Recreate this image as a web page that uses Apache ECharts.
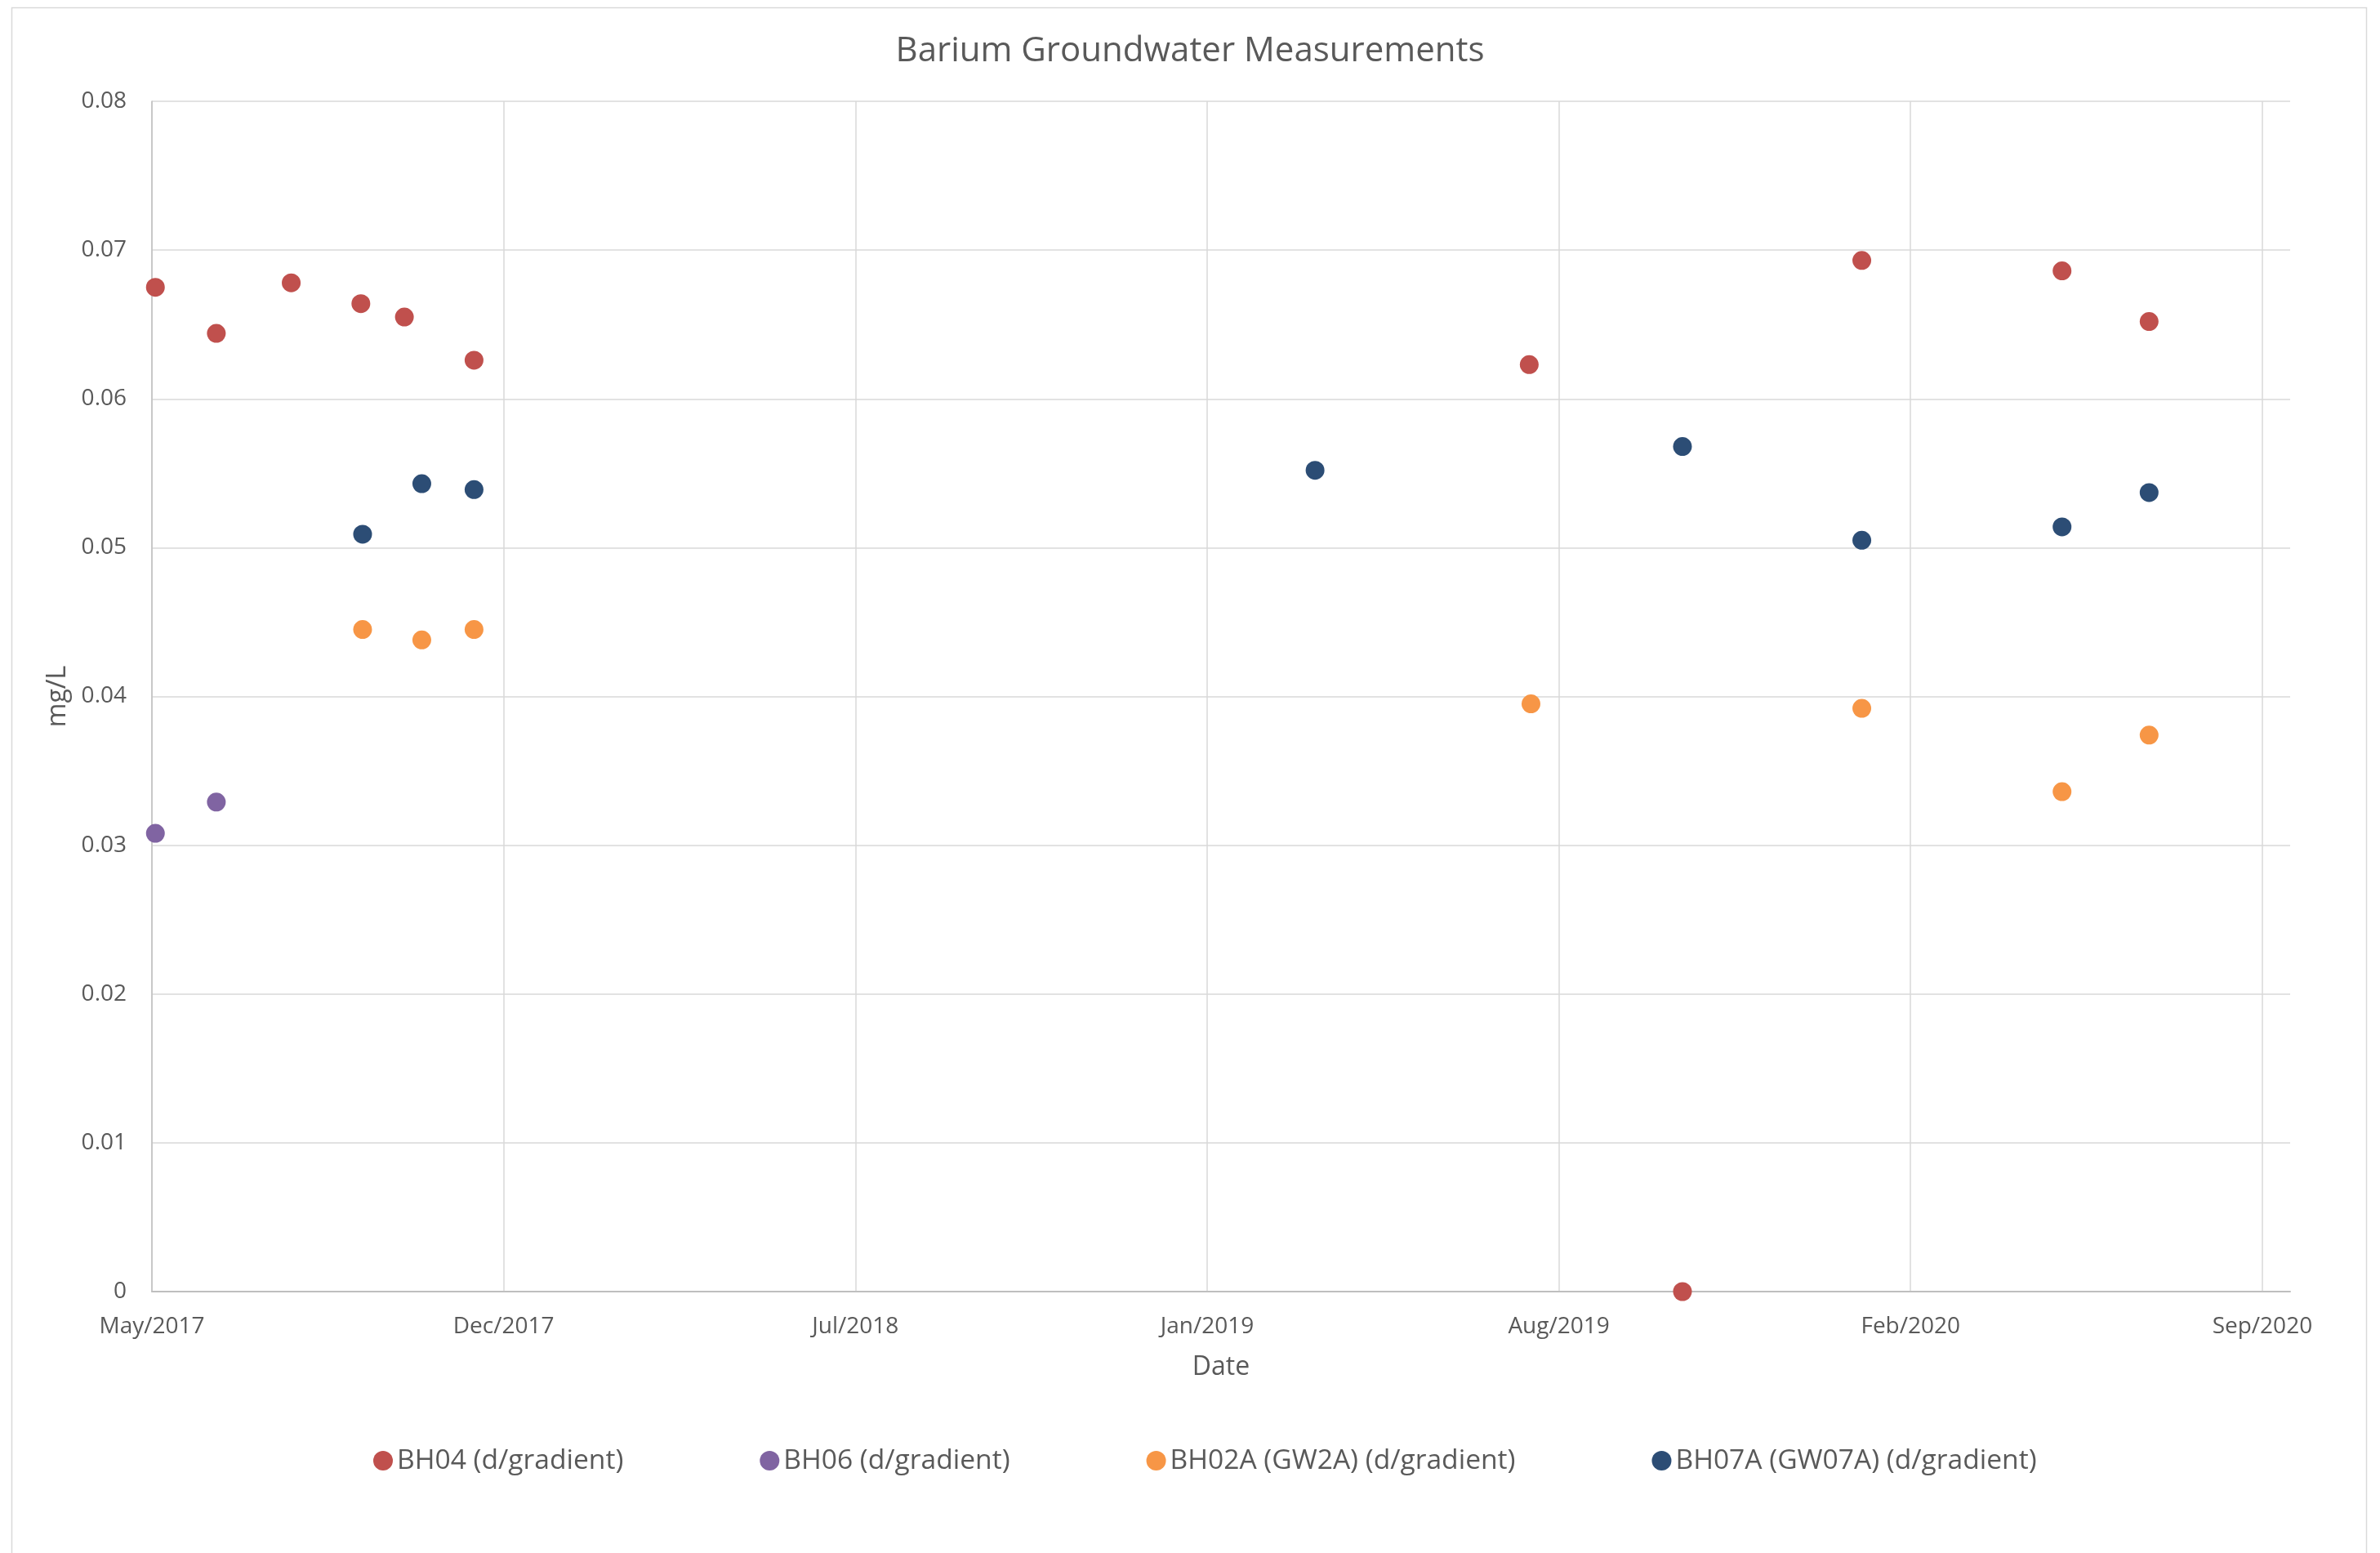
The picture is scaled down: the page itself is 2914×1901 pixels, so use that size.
<!DOCTYPE html>
<html>
<head>
<meta charset="utf-8">
<title>Barium Groundwater Measurements</title>
<script src="https://cdn.jsdelivr.net/npm/echarts@6/dist/echarts.min.js"></script>
<style>
  html, body { margin: 0; padding: 0; background: #fff; }
  #chart { width: 2914px; height: 1901px; }
</style>
</head>
<body>
<div id="chart"></div>
<script>
// sample dates + Ba results (mg/L)
var bh04Dates = ['2017-05-25', '2017-06-29', '2017-08-11', '2017-09-20', '2017-10-15', '2017-11-24',
                 '2019-07-23', '2019-10-19', '2020-01-30', '2020-05-24', '2020-07-13'];
var bh04Values = [0.0675, 0.0644, 0.0678, 0.0664, 0.0655, 0.0626, 0.0623, 0, 0.0693, 0.0686, 0.0652];

var bh06Dates = ['2017-05-25', '2017-06-29'];
var bh06Values = [0.0308, 0.0329];

var bh02aDates = ['2017-09-21', '2017-10-25', '2017-11-24', '2019-07-24', '2020-01-30', '2020-05-24', '2020-07-13'];
var bh02aValues = [0.0445, 0.0438, 0.0445, 0.0395, 0.0392, 0.0336, 0.0374];

var bh07aDates = ['2017-09-21', '2017-10-25', '2017-11-24', '2019-03-22', '2019-10-19', '2020-01-30',
                  '2020-05-24', '2020-07-13'];
var bh07aValues = [0.0509, 0.0543, 0.0539, 0.0552, 0.0568, 0.0505, 0.0514, 0.0537];

var seriesNames = ['BH04 (d/gradient)', 'BH06 (d/gradient)', 'BH02A (GW2A) (d/gradient)', 'BH07A (GW07A) (d/gradient)'];
var seriesColors = ['#C0504D', '#8064A2', '#F79646', '#2C4D75'];

// x axis: days counted from the first tick (Excel used a 202 day major unit)
var AXIS_START = Date.UTC(2017, 4, 23);
var DAY = 86400000;
var TICK_DAYS = 202;
var AXIS_END_DAYS = 1228;
var MONTHS = ['Jan', 'Feb', 'Mar', 'Apr', 'May', 'Jun', 'Jul', 'Aug', 'Sep', 'Oct', 'Nov', 'Dec'];

function toDays(s) {
    var p = s.split('-');
    return Math.round((Date.UTC(+p[0], +p[1] - 1, +p[2]) - AXIS_START) / DAY);
}

function pairs(dates, values) {
    return dates.map(function (d, i) { return [toDays(d), values[i]]; });
}

var allData = [
    pairs(bh04Dates, bh04Values),
    pairs(bh06Dates, bh06Values),
    pairs(bh02aDates, bh02aValues),
    pairs(bh07aDates, bh07aValues)
];

var textColor = '#595959';
var font = 'Open Sans';

var chart = echarts.init(document.getElementById('chart'));

var option = {
    backgroundColor: '#fff',
    animation: false,
    textStyle: { fontFamily: font },
    graphic: [{
        type: 'rect',
        shape: { x: 14.5, y: 9.5, width: 2883, height: 1900 },
        style: { fill: 'none', stroke: '#D9D9D9', lineWidth: 1.5 },
        silent: true
    }],
    title: {
        text: 'Barium Groundwater Measurements',
        left: 'center',
        top: 42,
        padding: 0,
        textStyle: { color: textColor, fontSize: 42, fontWeight: 'normal', fontFamily: font }
    },
    legend: {
        data: seriesNames,
        left: 457,
        top: 1771,
        padding: 0,
        icon: 'circle',
        itemWidth: 24,
        itemHeight: 24,
        itemGap: 167,
        textStyle: { color: textColor, fontSize: 33.6, fontFamily: font }
    },
    grid: {
        left: 186,
        right: 110,
        top: 124,
        bottom: 320,
        containLabel: false
    },
    xAxis: {
        type: 'value',
        min: 0,
        max: AXIS_END_DAYS,
        interval: TICK_DAYS,
        name: 'Date',
        nameLocation: 'middle',
        nameGap: 77,
        nameTextStyle: { color: textColor, fontSize: 32, fontFamily: font },
        axisLine: { show: true, lineStyle: { color: '#BFBFBF', width: 2 } },
        axisTick: { show: false },
        axisLabel: {
            color: textColor,
            fontSize: 28,
            margin: 29,
            showMaxLabel: false,
            formatter: function (v) {
                var d = new Date(AXIS_START + v * DAY);
                return MONTHS[d.getUTCMonth()] + '/' + d.getUTCFullYear();
            }
        },
        splitLine: { show: true, showMaxLine: false, lineStyle: { color: '#D9D9D9', width: 1.5 } }
    },
    yAxis: {
        type: 'value',
        min: 0,
        max: 0.08,
        interval: 0.01,
        name: 'mg/L',
        nameLocation: 'middle',
        nameGap: 99,
        nameTextStyle: { color: textColor, fontSize: 32, fontFamily: font },
        axisLine: { show: true, lineStyle: { color: '#BFBFBF', width: 1.5 } },
        axisTick: { show: false },
        axisLabel: {
            color: textColor,
            fontSize: 28,
            margin: 31,
            formatter: function (v) { return v === 0 ? '0' : v.toFixed(2); }
        },
        splitLine: { show: true, lineStyle: { color: '#D9D9D9', width: 1.5 } }
    },
    series: seriesNames.map(function (name, i) {
        return {
            name: name,
            type: 'scatter',
            symbol: 'circle',
            symbolSize: 23,
            clip: false,
            itemStyle: { color: seriesColors[i], opacity: 1 },
            data: allData[i]
        };
    })
};

chart.setOption(option);
</script>
</body>
</html>
